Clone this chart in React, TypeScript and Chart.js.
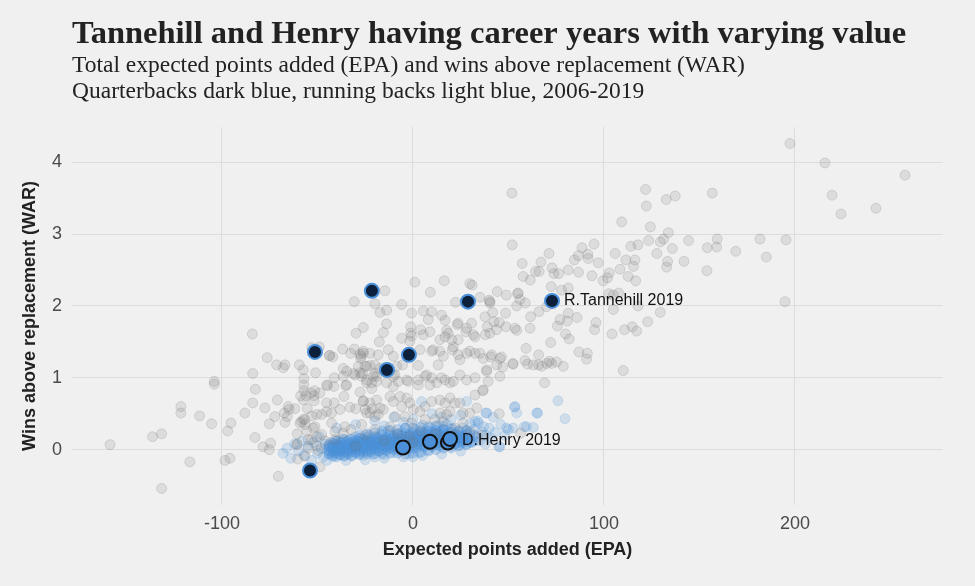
import React, { useEffect, useRef } from "react";
import { Chart, registerables } from "chart.js";

Chart.register(...registerables);

const titleText = "Tannehill and Henry having career years with varying value";
const subtitleLines = [
  "Total expected points added (EPA) and wins above replacement (WAR)",
  "Quarterbacks dark blue, running backs light blue, 2006-2019",
];
const xAxisTitle = "Expected points added (EPA)";
const yAxisTitle = "Wins above replacement (WAR)";
const xTicks = [-100, 0, 100, 200];
const yTicks = [0, 1, 2, 3, 4];

// Quarterback seasons [EPA, WAR]
const qbSeasons: number[][] = [
  [197.4, 4.26], [215.7, 3.99], [219.4, 3.54], [224.1, 3.28], [257.6, 3.82], [242.4, 3.36], [195.3, 2.92], [194.8, 2.06], [181.7, 2.93], [185, 2.68],
  [51.8, 3.57], [52, 2.85], [121.8, 3.62], [122.2, 3.39], [132.6, 3.48], [137.3, 3.53], [156.7, 3.57], [109.3, 3.17], [124.3, 3.1], [133.7, 3.02],
  [129.5, 2.89], [131.2, 2.93], [123.4, 2.91], [114.1, 2.83], [117.8, 2.85], [135.8, 2.8], [144.3, 2.91], [154.1, 2.81], [159, 2.82], [159.3, 2.93],
  [169, 2.76], [105.9, 2.73], [127.7, 2.73], [133.3, 2.62], [132.8, 2.54], [141.9, 2.62], [153.9, 2.49], [111.5, 2.64], [116.2, 2.64], [115.5, 2.55],
  [108.4, 2.51], [112.7, 2.41], [116.6, 2.35], [102.8, 2.46], [101.9, 2.39], [99.5, 2.35], [97, 2.6], [93.7, 2.42], [94.8, 2.86], [91.6, 2.72],
  [88.5, 2.81], [86.6, 2.7], [84.5, 2.64], [91.8, 2.66], [71.2, 2.73], [67, 2.61], [72.8, 2.53], [73.8, 2.45], [76.3, 2.45], [57.2, 2.59],
  [57.7, 2.41], [61.4, 2.36], [64.2, 2.48], [66.1, 2.48], [81.3, 2.5], [86.7, 2.47], [72.4, 2.27], [77.8, 2.22], [81.3, 2.25], [54.8, 2.17],
  [48.9, 2.15], [44.1, 2.2], [40.3, 2.06], [58.8, 2.04], [54.3, 2.0], [48.5, 1.9], [41.7, 1.91], [37.7, 1.85], [45.2, 1.77], [43.8, 1.67],
  [37.9, 1.6], [102.6, 2.17], [104.9, 2.15], [107.7, 2.18], [104.9, 1.95], [117.8, 2.0], [129.5, 1.91], [122.9, 1.78], [114.8, 1.71], [117.1, 1.65],
  [110.8, 1.67], [104.2, 1.61], [95.8, 1.77], [95.1, 1.67], [85.9, 1.84], [81.3, 1.9], [80.8, 1.79], [77, 1.81], [75.6, 1.72], [79.9, 1.61],
  [81.8, 1.54], [72.1, 1.49], [86.9, 1.36], [91.3, 1.34], [90.9, 1.26], [59.2, 1.41], [65.8, 1.32], [71.4, 1.23], [75.2, 1.22], [65.8, 1.18],
  [58.6, 1.24], [52.2, 1.2], [46.4, 1.29], [40.7, 1.29], [43.8, 1.18], [110.1, 1.1], [68.9, 0.93], [36.5, 0.82], [78.7, 1.16], [67.5, 1.16],
  [60, 1.19], [52.5, 1.19], [47, 1.15], [38.6, 1.11], [45.2, 0.5], [56.4, 0.23],
  [1.0, 2.33], [16.4, 2.35], [-14.7, 2.21], [-30.7, 2.06], [-19.9, 2.03], [-5.9, 2.02], [9.1, 2.19], [29.8, 2.31], [31, 2.29], [22.3, 2.05],
  [35.1, 2.12], [39.9, 2.08], [-17.3, 1.91], [-13.8, 1.94], [-0.7, 1.9], [5.4, 1.93], [9.8, 1.92], [15, 1.87], [16.8, 1.8], [-13.8, 1.75],
  [-15.5, 1.63], [-29.8, 1.62], [-26, 1.7], [-1.2, 1.71], [-1.2, 1.62], [4, 1.67], [8, 1.81], [17.6, 1.66], [23.2, 1.74], [27.7, 1.64],
  [31.6, 1.6], [38.9, 1.71], [40.3, 1.62], [42.4, 1.78], [-84.1, 1.61], [-76.3, 1.28], [-43.5, 1.31], [-36.8, 1.4], [-30.7, 1.4], [-27.2, 1.3],
  [-22.5, 1.34], [-17.6, 1.5], [-12.9, 1.39], [-5.9, 1.55], [-1.6, 1.51], [3.7, 1.39], [10.6, 1.39], [14.1, 1.53], [20.6, 1.39], [23.7, 1.53],
  [28.1, 1.34], [35.1, 1.34], [-53, 1.42], [-49, 1.43], [-71.4, 1.18], [-67, 1.18], [-59.5, 1.18],
  [-158.6, 0.07], [-136.3, 0.18], [-131.6, 0.22], [-131.6, -0.54], [-121.5, 0.6], [-121.5, 0.51], [-116.8, -0.17], [-111.7, 0.47], [-105.4, 0.36], [-104, 0.95],
  [-104, 0.91], [-98.4, -0.15], [-95.8, -0.12], [-97, 0.26], [-95.3, 0.37], [-88, 0.51], [-83.9, 1.06], [-82.5, 0.84], [-83.9, 0.65], [-82.7, 0.17],
  [-77.5, 0.58], [-78.5, 0.04], [-75.2, 0.0], [-74.5, 0.09], [-75.2, 0.36], [-70.5, -0.37], [-71, 0.69], [-72.3, 0.46], [-67.4, 0.51], [-65.3, 0.6],
  [-61.8, 0.57], [-57.4, 0.69], [-53.4, 0.79], [-51.7, 0.68], [-48.7, 0.79], [-60.9, 0.07], [-58.3, 0.39], [-56.5, 0.42], [-51.3, 0.32], [-53, 0.14],
  [-54.8, 0.02], [-60.4, -0.13], [-56.5, -0.09], [-48.7, -0.24], [-50.4, 0.05], [-67, 0.38], [-65.8, 0.46], [-64.9, 0.56],
  [-57.1, 0.9], [-57.1, 0.82], [-58.8, 0.75], [-56, 0.75], [-51.8, 0.75], [-51.5, 0.82], [-55.3, 0.57], [-50.4, 0.49], [-45.2, 0.53], [-45.2, 0.9],
  [-41.4, 0.88], [-41.2, 1.0], [-36.5, 1.02], [-35.2, 0.89], [-36.1, 0.74], [-41.2, 0.65], [-38.2, 0.56], [-33, 0.59], [-30, 0.57], [-26, 0.68],
  [-27.7, 0.8], [-21.6, 0.85], [-22.5, 0.51], [-18.2, 0.49], [-57.4, 0.42], [-56.5, 0.35], [-59.2, 0.37], [-52.2, 0.3], [-55.7, 0.26], [-50.4, 0.18],
  [-47.8, 0.21], [-42.6, 0.37], [-40.8, 0.25], [-35.6, 0.32], [-32.5, 0.28], [-60.6, 0.22], [-60.6, 0.08], [-54.8, 0.14], [-49.6, -0.01], [-46.1, 0.12],
  [-40.8, 0.14], [-36.5, 0.23], [-45.2, 0.65], [-42.6, 0.51], [-47.8, 0.49], [-34.7, 1.09], [-30.4, 1.04], [-27.7, 1.07], [-24.2, 0.97], [-21.6, 0.93],
  [-19, 1.02], [-25.1, 0.56], [-21.3, 0.57], [-19, 0.69], [-53, 0.47], [-26.9, 0.35],
  [-67.9, 1.14], [-57.4, 1.11], [-51, 1.07], [-43.8, 1.31], [-42, 1.29], [-36.5, 1.13], [-32.6, 1.34], [-27.7, 1.33], [-27.4, 1.27], [-26, 1.37],
  [-44.7, 0.89], [-57.1, 0.99], [-34.7, 0.9], [-31.3, 1.06], [-28.6, 1.16], [-26.9, 1.02], [-24.2, 1.16], [-22.5, 1.17], [-19.9, 1.06],
  [40.3, 2.04], [55.1, 2.18], [56, 2.09], [23.7, 1.76], [28.1, 1.69], [30.7, 1.76], [32.5, 1.57], [48.7, 1.71], [53.4, 1.69], [54.3, 1.66],
  [61.3, 1.69], [61.6, 1.85], [66, 1.92], [70, 1.99], [-0.7, 1.58], [5.4, 1.6], [8.9, 1.64], [16.8, 1.57], [18.5, 1.62], [20.3, 1.53],
  [-26, 1.34], [-18.2, 1.32], [-10.3, 1.3], [-5.4, 1.18], [2.8, 1.17], [9.8, 1.37], [14.1, 1.37], [15.9, 1.3], [13.2, 1.18], [21.1, 1.43],
  [23.7, 1.32], [24.6, 1.25], [29.8, 1.37], [32.5, 1.34], [36.8, 1.27], [41.2, 1.32], [45.5, 1.27], [70, 1.2], [72.6, 1.2], [63, 1.18],
  [-25.1, 1.16], [-19.9, 1.18], [-26.3, 1.06], [-17.3, 1.13], [-8.5, 1.16], [-9.4, 1.04], [-2.5, 0.95], [2.8, 0.97], [7.2, 1.04], [9.8, 1.0],
  [12.4, 0.93], [16.8, 0.97], [21.1, 0.95], [24.6, 1.04], [28.1, 0.97], [32.5, 1.0], [39.4, 0.95], [45.5, 1.02], [-10.3, 0.88], [-24.3, 0.93],
  [-20.8, 1.02], [-19, 0.95], [-13.8, 0.93], [-10.3, 1.02], [-7.7, 0.95], [-3.3, 0.97], [2.8, 0.9], [6.3, 1.02], [8.9, 0.9], [15, 1.0],
  [19.4, 0.93], [32.5, 0.76], [36.8, 0.83], [38.6, 1.09],
  [-26, 0.67], [-22.5, 0.65], [-17.3, 0.58], [-12, 0.74], [-10.3, 0.67], [-6.8, 0.74], [-5.9, 0.6], [-3.3, 0.72], [-1.6, 0.65], [0.2, 0.56],
  [3.7, 0.53], [6.3, 0.6], [9.8, 0.67], [14.1, 0.69], [16.8, 0.65], [19.4, 0.72], [22, 0.65], [19.4, 0.53], [14.1, 0.51], [17.6, 0.49],
  [24.6, 0.65], [26.3, 0.51], [29.8, 0.51], [33.4, 0.58], [26.3, 0.37], [15.9, 0.39], [11.5, 0.42], [6.3, 0.42], [-0.7, 0.37], [-4.2, 0.46],
  [-9.4, 0.46], [-15.5, 0.56], [-19.9, 0.46], [-24.3, 0.51], [-12, 0.32], [-8, 0.22], [-2, 0.18], [4, 0.26], [12, 0.22], [22, 0.3],
  [-15, 0.12], [-25, 0.2], [-30, 0.05], [0, 0.1], [30, 0.25], [36, 0.2], [-20, 0.28],
];

// Running back seasons [EPA, WAR] — scattered ones
const rbSeasons: number[][] = [
  [-68, -0.05], [-66, 0.02], [-64, -0.12], [-62, 0.08], [-60, -0.02], [-58, 0.12], [-57, -0.08], [-55, 0.05], [-53, -0.15], [-52, 0.1],
  [-50, -0.05], [-49, 0.18], [-48, 0.02], [-47, -0.1], [-46, 0.08],
  [-45, 0.0], [-44, 0.05], [-44, -0.06], [-43, 0.1], [-43, -0.02], [-42, 0.03], [-42, -0.1], [-41, 0.07], [-41, -0.04], [-40, 0.0],
  [-40, 0.12], [-39, -0.07], [-39, 0.04], [-38, 0.09], [-38, -0.02], [-37, 0.01], [-37, 0.15], [-36, -0.08], [-36, 0.06], [-35, 0.02],
  [-35, 0.11], [-34, -0.04], [-34, 0.08], [-33, 0.0], [-33, 0.14], [-32, 0.05], [-32, -0.09], [-31, 0.1], [-31, 0.02], [-30, -0.03],
  [-30, 0.07], [-30, 0.18],
  [-29, 0.04], [-29, 0.12], [-28, -0.05], [-28, 0.08], [-27, 0.0], [-27, 0.16], [-26, 0.06], [-26, -0.08], [-25, 0.1], [-25, 0.02],
  [-24, 0.13], [-24, -0.03], [-23, 0.07], [-23, 0.2], [-22, 0.0], [-22, 0.1], [-21, 0.05], [-21, -0.06], [-20, 0.12], [-20, 0.03],
  [-19, 0.17], [-19, 0.08], [-18, -0.02], [-18, 0.1], [-17, 0.05], [-17, 0.22], [-16, 0.13], [-16, 0.0], [-15, 0.07], [-15, -0.07],
  [-14, 0.15], [-14, 0.04], [-13, 0.1], [-13, 0.26], [-12, 0.02], [-12, 0.12], [-11, 0.18], [-11, 0.06], [-10, -0.04], [-10, 0.1],
  [-9, 0.14], [-9, 0.03], [-8, 0.2], [-8, 0.08], [-7, -0.02], [-7, 0.12], [-6, 0.06], [-6, 0.24], [-5, 0.16], [-5, 0.0],
  [-4, 0.1], [-4, 0.3], [-3, 0.05], [-3, 0.18], [-2, -0.06], [-2, 0.12], [-1, 0.22], [-1, 0.07], [0, 0.14], [0, 0.02],
  [1, 0.1], [1, 0.28], [2, 0.18], [2, 0.04], [3, 0.12], [3, -0.04], [4, 0.22], [4, 0.08], [5, 0.15], [5, 0.34],
  [6, 0.05], [6, 0.2], [7, 0.12], [7, 0.26], [8, 0.0], [8, 0.17], [9, 0.09], [9, 0.3], [10, 0.14], [10, 0.04],
  [11, 0.2], [11, 0.1], [12, 0.26], [12, 0.06], [13, 0.15], [13, 0.33], [14, 0.1], [14, 0.21], [15, 0.04], [15, 0.17],
  [16, 0.28], [16, 0.12], [17, 0.2], [17, 0.07], [18, 0.16], [18, 0.35], [19, 0.24], [19, 0.1], [20, 0.18], [20, 0.02],
  [21, 0.13], [21, 0.29], [22, 0.2], [22, 0.08], [23, 0.15], [24, 0.25], [24, 0.05], [25, 0.18], [26, 0.12], [26, 0.3],
  [27, 0.2], [28, 0.08], [28, 0.26], [29, 0.15], [30, 0.22], [30, 0.36],
  [31, 0.1], [32, 0.28], [33, 0.18], [34, 0.4], [35, 0.12], [36, 0.25], [37, 0.32], [38, 0.08], [38, 0.2], [40, 0.3],
  [41, 0.16], [42, 0.45], [43, 0.24], [45, 0.04], [46, 0.35], [48, 0.2], [50, 0.28],
  [38.6, 0.51], [53.4, 0.6], [54.3, 0.51], [64.8, 0.51], [49, 0.3], [52.5, 0.3], [59.5, 0.32], [32.5, 0.39], [34.2, 0.37], [28.1, 0.67],
  [4.5, 0.67], [75.9, 0.68], [79.6, 0.43], [65.3, 0.51], [53.2, 0.59], [58.3, 0.32], [63, 0.31], [38.2, 0.51], [45.5, 0.04],
  [-20, 0.4], [-10, 0.45], [0, 0.42], [10, 0.5], [-30, 0.35], [-40, 0.3], [15, 0.45], [-5, 0.38], [20, 0.42], [-15, 0.33], [25, 0.48],
  [-35, -0.15], [-25, -0.14], [-15, -0.12], [-5, -0.1], [5, -0.08], [15, -0.06], [-45, -0.15], [25, -0.02], [-20, -0.1], [0, -0.1],
];

// Running back seasons [EPA, WAR] — the dense core of the cloud
const rbCoreSeasons: number[][] = [
  [-44, -0.06], [-44, -0.02], [-44, 0.03], [-44, 0.07],
  [-42, -0.08], [-42, -0.03], [-42, 0.01], [-42, 0.05], [-42, 0.09],
  [-40, -0.05], [-40, -0.01], [-40, 0.04], [-40, 0.08], [-40, -0.1], [-40, 0.12],
  [-38, -0.07], [-38, -0.02], [-38, 0.02], [-38, 0.06], [-38, 0.11],
  [-36, -0.04], [-36, 0.0], [-36, 0.05], [-36, 0.09], [-36, -0.09], [-36, 0.14],
  [-34, -0.06], [-34, -0.01], [-34, 0.03], [-34, 0.07], [-34, 0.12],
  [-32, -0.03], [-32, 0.02], [-32, 0.06], [-32, 0.1], [-32, -0.08], [-32, 0.15],
  [-30, -0.05], [-30, 0.0], [-30, 0.04], [-30, 0.09], [-30, 0.13],
  [-28, -0.02], [-28, 0.03], [-28, 0.07], [-28, 0.11], [-28, -0.07], [-28, 0.16], [-28, 0.2],
  [-26, -0.04], [-26, 0.01], [-26, 0.05], [-26, 0.1], [-26, 0.14],
  [-24, -0.01], [-24, 0.04], [-24, 0.08], [-24, 0.12], [-24, -0.06], [-24, 0.17], [-24, 0.22],
  [-22, -0.03], [-22, 0.02], [-22, 0.06], [-22, 0.11], [-22, 0.15],
  [-20, 0.0], [-20, 0.05], [-20, 0.09], [-20, 0.13], [-20, -0.06], [-20, 0.18], [-20, 0.24],
  [-18, -0.02], [-18, 0.03], [-18, 0.07], [-18, 0.12], [-18, 0.16],
  [-16, 0.01], [-16, 0.06], [-16, 0.1], [-16, 0.14], [-16, -0.05], [-16, 0.2], [-16, 0.26],
  [-14, -0.01], [-14, 0.04], [-14, 0.08], [-14, 0.13], [-14, 0.17],
  [-12, 0.02], [-12, 0.07], [-12, 0.11], [-12, 0.15], [-12, -0.05], [-12, 0.21], [-12, 0.27],
  [-10, 0.0], [-10, 0.05], [-10, 0.09], [-10, 0.14], [-10, 0.19],
  [-8, 0.03], [-8, 0.08], [-8, 0.12], [-8, 0.16], [-8, -0.05], [-8, 0.22], [-8, 0.28],
  [-6, 0.01], [-6, 0.06], [-6, 0.1], [-6, 0.15], [-6, 0.2],
  [-4, 0.04], [-4, 0.09], [-4, 0.13], [-4, 0.18], [-4, -0.06], [-4, 0.23], [-4, 0.3],
  [-2, 0.02], [-2, 0.07], [-2, 0.11], [-2, 0.16], [-2, 0.21],
  [0, 0.05], [0, 0.1], [0, 0.14], [0, 0.19], [0, -0.05], [0, 0.24], [0, 0.3],
  [2, 0.03], [2, 0.08], [2, 0.12], [2, 0.17], [2, 0.22],
  [4, 0.06], [4, 0.11], [4, 0.15], [4, 0.2], [4, -0.04], [4, 0.25], [4, 0.31],
  [6, 0.04], [6, 0.09], [6, 0.13], [6, 0.18], [6, 0.23],
  [8, 0.07], [8, 0.12], [8, 0.16], [8, 0.21], [8, -0.02], [8, 0.26], [8, 0.32],
  [10, 0.05], [10, 0.1], [10, 0.14], [10, 0.19], [10, 0.24],
  [12, 0.08], [12, 0.13], [12, 0.17], [12, 0.22], [12, 0.0], [12, 0.27], [12, 0.33],
  [14, 0.06], [14, 0.11], [14, 0.15], [14, 0.2], [14, 0.25],
  [16, 0.09], [16, 0.14], [16, 0.18], [16, 0.23], [16, 0.02], [16, 0.28], [16, 0.32],
  [18, 0.07], [18, 0.12], [18, 0.16], [18, 0.21],
  [20, 0.1], [20, 0.15], [20, 0.19], [20, 0.24], [20, 0.04], [20, 0.29],
  [22, 0.08], [22, 0.13], [22, 0.18], [22, 0.22],
  [24, 0.11], [24, 0.16], [24, 0.2], [24, 0.06], [24, 0.26],
  [26, 0.09], [26, 0.14], [26, 0.19],
  [28, 0.12], [28, 0.17], [28, 0.22], [28, 0.07], [28, 0.27],
  [30, 0.1], [30, 0.16],
  [32, 0.12], [32, 0.2],
];

// Highlighted seasons
const tannehillSeasons: number[][] = [
  [-21.5, 2.21], [28.8, 2.06], [72.8, 2.07], [-51.3, 1.36], [-2.1, 1.32], [-13.6, 1.11], [-53.9, -0.29],
];
const henrySeasons: number[][] = [
  [-5.2, 0.03], [8.9, 0.11], [18.3, 0.1], [19.4, 0.15],
];
const labelPoints = [
  { text: "R.Tannehill 2019", x: 72.8, y: 2.07 },
  { text: "D.Henry 2019", x: 19.4, y: 0.125 },
];

const toXY = (arr: number[][]) => arr.map(([x, y]) => ({ x, y }));

export default function App() {
  const canvasRef = useRef<HTMLCanvasElement | null>(null);

  useEffect(() => {
    document.body.style.margin = "0";
    document.body.style.background = "#f0f0f0";
    const canvas = canvasRef.current;
    if (!canvas) return;

    const bgPlugin = {
      id: "bg",
      beforeDraw(chart: any) {
        const { ctx } = chart;
        ctx.save();
        ctx.fillStyle = "#f0f0f0";
        ctx.fillRect(0, 0, chart.width, chart.height);
        ctx.restore();
      },
    };

    const textPlugin = {
      id: "texts",
      afterDraw(chart: any) {
        const { ctx } = chart;
        ctx.save();
        ctx.fillStyle = "#222222";
        ctx.textAlign = "left";
        ctx.textBaseline = "alphabetic";
        ctx.font = "bold 32.5px 'Liberation Serif', 'Times New Roman', serif";
        ctx.fillText(titleText, 72, 43);
        ctx.font = "23.5px 'Liberation Serif', 'Times New Roman', serif";
        ctx.fillText(subtitleLines[0], 72, 72);
        ctx.fillText(subtitleLines[1], 72, 98);
        const xs = chart.scales.x;
        const ys = chart.scales.y;
        ctx.fillStyle = "#111111";
        ctx.font = "16px 'Liberation Sans', Arial, sans-serif";
        ctx.textBaseline = "middle";
        labelPoints.forEach((p) => {
          ctx.fillText(p.text, xs.getPixelForValue(p.x) + 12, ys.getPixelForValue(p.y));
        });
        ctx.restore();
      },
    };

    const tickFont = { family: "'Liberation Sans', Arial, sans-serif", size: 18 };
    const titleFont = { family: "'Liberation Sans', Arial, sans-serif", size: 18, weight: "bold" as const };

    const chart = new Chart(canvas, {
      type: "scatter",
      data: {
        datasets: [
          {
            label: "Tannehill",
            data: toXY(tannehillSeasons),
            backgroundColor: "#0c1f3b",
            borderColor: "#4a90d9",
            borderWidth: 2,
            pointRadius: 7,
            order: 0,
          },
          {
            label: "Henry",
            data: toXY(henrySeasons),
            backgroundColor: "#4a8fd8",
            borderColor: "#111111",
            borderWidth: 2,
            pointRadius: 7,
            order: 0,
          },
          {
            label: "QB",
            data: toXY(qbSeasons),
            backgroundColor: "rgba(120,120,120,0.16)",
            borderColor: "rgba(110,110,110,0.2)",
            borderWidth: 1,
            pointRadius: 5,
            order: 1,
          },
          {
            label: "RB",
            data: toXY(rbSeasons),
            backgroundColor: "rgba(74,144,217,0.2)",
            borderColor: "rgba(74,144,217,0.18)",
            borderWidth: 1,
            pointRadius: 5,
            order: 2,
          },
          {
            label: "RB core",
            data: toXY(rbCoreSeasons),
            backgroundColor: "rgba(74,144,217,0.3)",
            borderColor: "rgba(74,144,217,0.22)",
            borderWidth: 1,
            pointRadius: 5,
            order: 3,
          },
        ],
      },
      options: {
        animation: false,
        responsive: false,
        devicePixelRatio: 1,
        layout: { padding: { top: 127, right: 32, left: 0, bottom: 0 } },
        plugins: {
          legend: { display: false },
          tooltip: { enabled: false },
          title: { display: false },
        },
        scales: {
          x: {
            type: "linear",
            min: -178.5,
            max: 277.5,
            afterFit(scale: any) {
              scale.height = 81;
            },
            afterBuildTicks(scale: any) {
              scale.ticks = xTicks.map((v) => ({ value: v }));
            },
            grid: { color: "#dcdcdc", lineWidth: 1, drawTicks: false },
            border: { display: false },
            ticks: { font: tickFont, color: "#4a4a4a", padding: 8 },
            title: { display: true, text: xAxisTitle, font: titleFont, color: "#222222", padding: { top: 0, bottom: 25 } },
          },
          y: {
            type: "linear",
            min: -0.77,
            max: 4.49,
            afterFit(scale: any) {
              scale.width = 72;
            },
            afterBuildTicks(scale: any) {
              scale.ticks = yTicks.map((v) => ({ value: v }));
            },
            grid: { color: "#dcdcdc", lineWidth: 1, drawTicks: false },
            border: { display: false },
            ticks: { font: tickFont, color: "#4a4a4a", padding: 10 },
            title: { display: true, text: yAxisTitle, font: titleFont, color: "#222222", padding: { top: 19, bottom: 0 } },
          },
        },
      },
      plugins: [bgPlugin, textPlugin],
    });

    return () => chart.destroy();
  }, []);

  return (
    <div style={{ position: "absolute", left: 0, top: 0, width: 975, height: 586, background: "#f0f0f0" }}>
      <canvas ref={canvasRef} width={975} height={586} style={{ display: "block" }} />
    </div>
  );
}
